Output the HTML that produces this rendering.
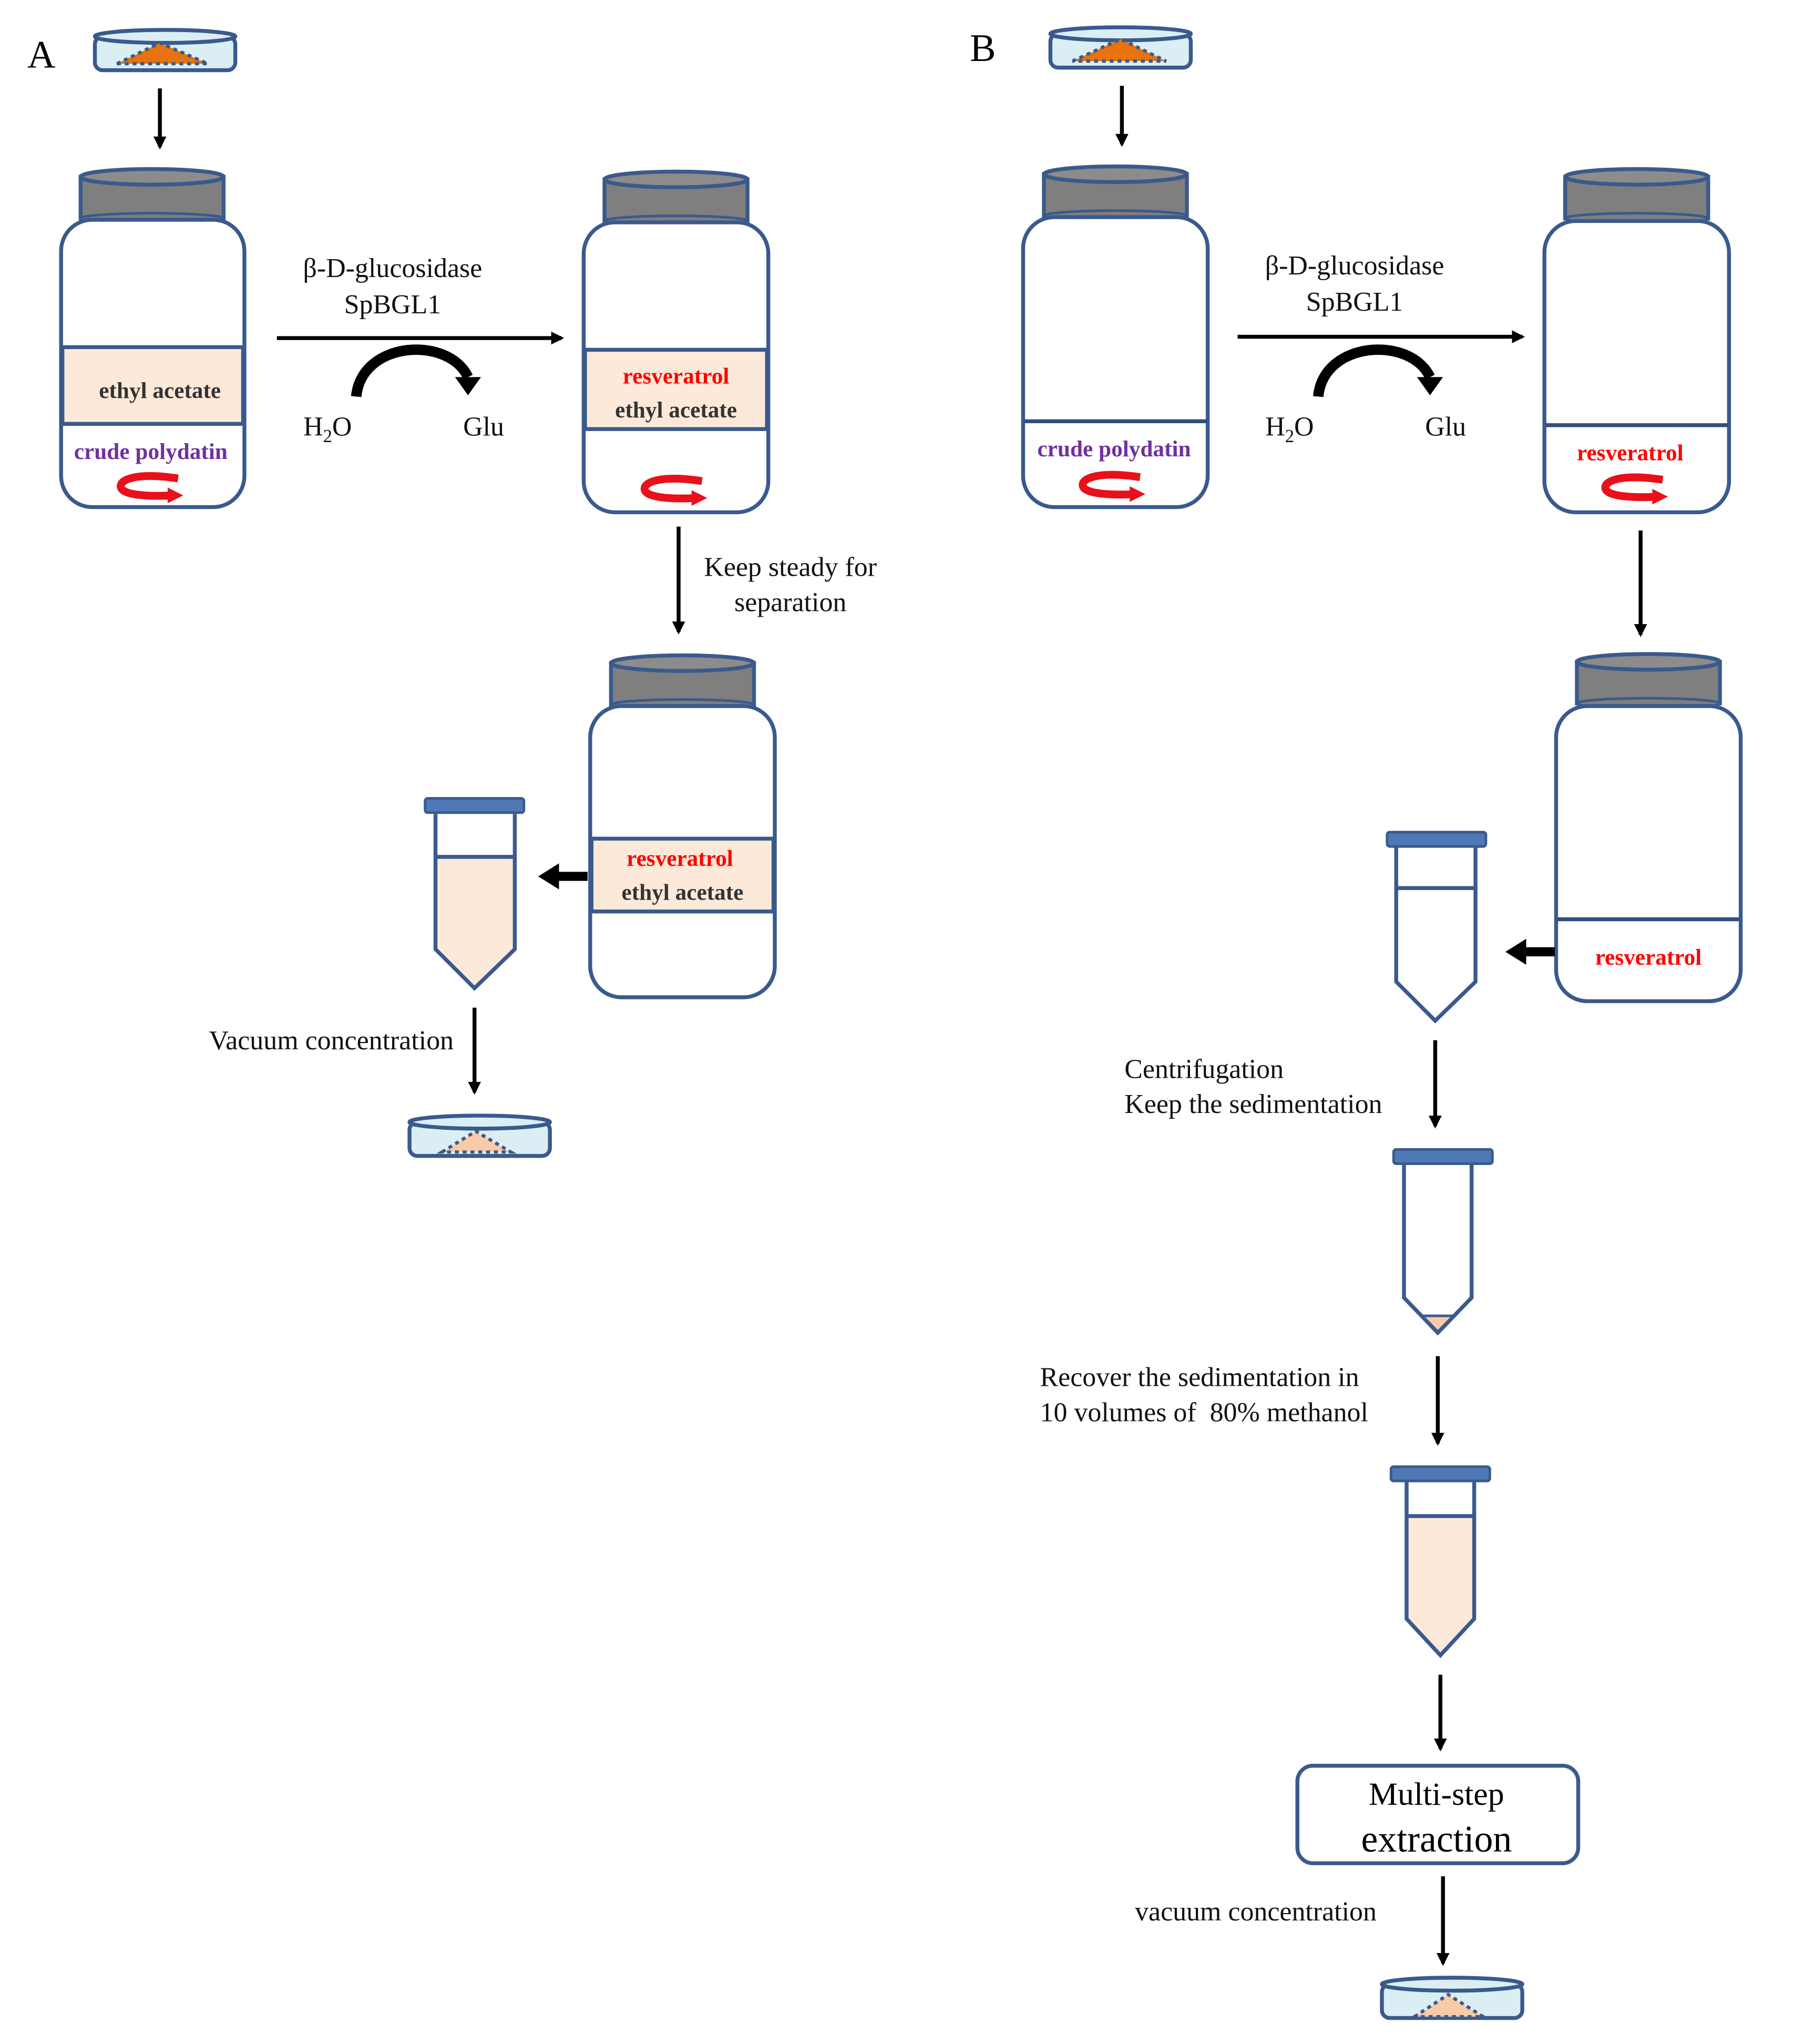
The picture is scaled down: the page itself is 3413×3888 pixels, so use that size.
<!DOCTYPE html>
<html><head><meta charset="utf-8"><style>
html,body{margin:0;padding:0;background:#fff;}
svg{display:block;}
text{font-family:"Liberation Serif",serif;}
.t{font-size:21px;fill:#111;}
.b{font-size:17.5px;font-weight:bold;}
</style></head><body>
<svg width="3413" height="3888" viewBox="0 0 1380 1572" preserveAspectRatio="none" xmlns="http://www.w3.org/2000/svg">
<defs>
<marker id="ah" markerWidth="10" markerHeight="10" refX="8" refY="5" orient="auto" markerUnits="userSpaceOnUse"><path d="M0,0 L10,5 L0,10 z" fill="#000"/></marker>
<g id="stir"><path d="M22,-7 C-10,-12 -24,-6 -22,0 C-20,6 0,7 18,6" fill="none" stroke="#e8101a" stroke-width="6"/><path d="M14,0 L26,6 L14,12 z" fill="#e8101a"/></g>
<g id="cap"><rect x="0" y="8" width="110" height="32" fill="#7f7f7f" stroke="#3a5a8c" stroke-width="3"/><ellipse cx="55" cy="8" rx="55" ry="6" fill="#8c8c8c" stroke="#3a5a8c" stroke-width="3"/><ellipse cx="55" cy="40" rx="55" ry="4" fill="#7f7f7f" stroke="#3a5a8c" stroke-width="2"/></g>
<g id="dish"><rect x="0" y="6" width="108" height="26" rx="6" fill="#dbeef4" stroke="#3a5a8c" stroke-width="3"/><ellipse cx="54" cy="6" rx="54" ry="5" fill="#dbeef4" stroke="#3a5a8c" stroke-width="3"/></g>
<g id="tcap"><rect x="0" y="0" width="76" height="11" rx="2" fill="#4f79b5" stroke="#3a5a8c" stroke-width="2"/></g>
</defs>

<!-- A -->
<text x="21" y="52" style="font-size:30px">A</text>
<use href="#dish" x="73" y="22"/>
<path d="M90,49 L123,33 L160,49 Z" fill="#e8720c" stroke="#3a5a8c" stroke-width="2.5" stroke-dasharray="3,3"/>
<line x1="123" y1="68" x2="123" y2="113" stroke="#000" stroke-width="3" marker-end="url(#ah)"/>

<use href="#cap" x="62" y="128"/>
<rect x="47" y="169" width="141" height="221" rx="24" fill="#fff" stroke="#3a5a8c" stroke-width="3"/>
<rect x="48" y="267" width="139" height="59" fill="#fce9d9" stroke="#3a5a8c" stroke-width="3"/>
<text x="123" y="306" text-anchor="middle" class="b" fill="#333">ethyl acetate</text>
<text x="116" y="353" text-anchor="middle" class="b" fill="#7030a0">crude polydatin</text>
<use href="#stir" x="115" y="375"/>

<line x1="213" y1="260" x2="432" y2="260" stroke="#000" stroke-width="3" marker-end="url(#ah)"/>
<text x="302" y="213" text-anchor="middle" class="t">β-D-glucosidase</text>
<text x="302" y="241" text-anchor="middle" class="t">SpBGL1</text>
<path d="M274,305 C278,262 345,258 360,290" fill="none" stroke="#000" stroke-width="8"/>
<path d="M350,290 L370,290 L360,304 Z" fill="#000"/>
<text x="252" y="335" text-anchor="middle" class="t">H<tspan dy="5" style="font-size:14px">2</tspan><tspan dy="-5">O</tspan></text>
<text x="372" y="335" text-anchor="middle" class="t">Glu</text>

<use href="#cap" x="465" y="130"/>
<rect x="449" y="171" width="142" height="223" rx="24" fill="#fff" stroke="#3a5a8c" stroke-width="3"/>
<rect x="450" y="269" width="140" height="61" fill="#fce9d9" stroke="#3a5a8c" stroke-width="3"/>
<text x="520" y="295" text-anchor="middle" class="b" fill="#ff0000">resveratrol</text>
<text x="520" y="321" text-anchor="middle" class="b" fill="#333">ethyl acetate</text>
<use href="#stir" x="518" y="377"/>

<line x1="522" y1="405" x2="522" y2="486" stroke="#000" stroke-width="3" marker-end="url(#ah)"/>
<text x="608" y="443" text-anchor="middle" class="t">Keep steady for</text>
<text x="608" y="470" text-anchor="middle" class="t">separation</text>

<use href="#cap" x="470" y="502"/>
<rect x="454" y="543" width="142" height="224" rx="24" fill="#fff" stroke="#3a5a8c" stroke-width="3"/>
<rect x="455" y="645" width="140" height="56" fill="#fce9d9" stroke="#3a5a8c" stroke-width="3"/>
<text x="523" y="666" text-anchor="middle" class="b" fill="#ff0000">resveratrol</text>
<text x="525" y="692" text-anchor="middle" class="b" fill="#333">ethyl acetate</text>

<path d="M452,674 L428,674" stroke="#000" stroke-width="7"/>
<path d="M430,664 L414,674 L430,684 Z" fill="#000"/>

<use href="#tcap" x="327" y="614"/>
<path d="M335,659 L396,659 L396,730 L365,760 L335,730 Z" fill="#fce9d9"/>
<path d="M335,626 L335,730 L365,760 L396,730 L396,626" fill="none" stroke="#3a5a8c" stroke-width="3"/>
<line x1="335" y1="659" x2="396" y2="659" stroke="#3a5a8c" stroke-width="3"/>

<text x="349" y="807" text-anchor="end" class="t">Vacuum concentration</text>
<line x1="365" y1="775" x2="365" y2="840" stroke="#000" stroke-width="3" marker-end="url(#ah)"/>
<use href="#dish" x="315" y="857"/>
<path d="M340,886 L366,870 L393,886 Z" fill="#f8cba6" stroke="#3a5a8c" stroke-width="2.5" stroke-dasharray="3,3"/>

<!-- B -->
<text x="746" y="47" style="font-size:30px">B</text>
<use href="#dish" x="808" y="20"/>
<path d="M825,47 L862,30 L897,47 Z" fill="#e8720c" stroke="#3a5a8c" stroke-width="2.5" stroke-dasharray="3,3"/>
<line x1="863" y1="66" x2="863" y2="111" stroke="#000" stroke-width="3" marker-end="url(#ah)"/>

<use href="#cap" x="803" y="126"/>
<rect x="787" y="167" width="142" height="223" rx="24" fill="#fff" stroke="#3a5a8c" stroke-width="3"/>
<line x1="788" y1="324" x2="928" y2="324" stroke="#2f4f7f" stroke-width="3"/>
<text x="857" y="351" text-anchor="middle" class="b" fill="#7030a0">crude polydatin</text>
<use href="#stir" x="855" y="374"/>

<line x1="952" y1="259" x2="1171" y2="259" stroke="#000" stroke-width="3" marker-end="url(#ah)"/>
<text x="1042" y="211" text-anchor="middle" class="t">β-D-glucosidase</text>
<text x="1042" y="239" text-anchor="middle" class="t">SpBGL1</text>
<path d="M1014,305 C1018,262 1085,258 1100,290" fill="none" stroke="#000" stroke-width="8"/>
<path d="M1090,290 L1110,290 L1100,304 Z" fill="#000"/>
<text x="992" y="335" text-anchor="middle" class="t">H<tspan dy="5" style="font-size:14px">2</tspan><tspan dy="-5">O</tspan></text>
<text x="1112" y="335" text-anchor="middle" class="t">Glu</text>

<use href="#cap" x="1204" y="128"/>
<rect x="1188" y="170" width="142" height="224" rx="24" fill="#fff" stroke="#3a5a8c" stroke-width="3"/>
<line x1="1189" y1="327" x2="1329" y2="327" stroke="#2f4f7f" stroke-width="3"/>
<text x="1254" y="354" text-anchor="middle" class="b" fill="#ff0000">resveratrol</text>
<use href="#stir" x="1257" y="376"/>

<line x1="1262" y1="408" x2="1262" y2="488" stroke="#000" stroke-width="3" marker-end="url(#ah)"/>

<use href="#cap" x="1213" y="501"/>
<rect x="1197" y="543" width="142" height="227" rx="24" fill="#fff" stroke="#3a5a8c" stroke-width="3"/>
<line x1="1198" y1="707" x2="1338" y2="707" stroke="#2f4f7f" stroke-width="3"/>
<text x="1268" y="742" text-anchor="middle" class="b" fill="#ff0000">resveratrol</text>

<path d="M1196,732 L1172,732" stroke="#000" stroke-width="7"/>
<path d="M1174,722 L1158,732 L1174,742 Z" fill="#000"/>

<use href="#tcap" x="1067" y="640"/>
<path d="M1074,651 L1074,755 L1104,785 L1135,755 L1135,651" fill="none" stroke="#3a5a8c" stroke-width="3"/>
<line x1="1074" y1="683" x2="1135" y2="683" stroke="#3a5a8c" stroke-width="3"/>

<text x="865" y="829" class="t">Centrifugation</text>
<text x="865" y="856" class="t">Keep the sedimentation</text>
<line x1="1104" y1="800" x2="1104" y2="866" stroke="#000" stroke-width="3" marker-end="url(#ah)"/>

<use href="#tcap" x="1072" y="884"/>
<path d="M1096,1012 L1116,1012 L1106,1023 Z" fill="#f8cba6"/>
<path d="M1080,895 L1080,998 L1106,1025 L1132,998 L1132,895" fill="none" stroke="#3a5a8c" stroke-width="3"/>
<line x1="1094" y1="1012" x2="1118" y2="1012" stroke="#3a5a8c" stroke-width="2"/>

<text x="800" y="1066" class="t">Recover the sedimentation in</text>
<text x="800" y="1093" class="t">10 volumes of &#160;80% methanol</text>
<line x1="1106" y1="1043" x2="1106" y2="1110" stroke="#000" stroke-width="3" marker-end="url(#ah)"/>

<use href="#tcap" x="1070" y="1128"/>
<path d="M1082,1166 L1134,1166 L1134,1245 L1108,1273 L1082,1245 Z" fill="#fce9d9"/>
<path d="M1082,1139 L1082,1245 L1108,1273 L1134,1245 L1134,1139" fill="none" stroke="#3a5a8c" stroke-width="3"/>
<line x1="1082" y1="1166" x2="1134" y2="1166" stroke="#3a5a8c" stroke-width="3"/>

<line x1="1108" y1="1288" x2="1108" y2="1345" stroke="#000" stroke-width="3" marker-end="url(#ah)"/>
<rect x="998" y="1358" width="216" height="75" rx="12" fill="#fff" stroke="#3a5a8c" stroke-width="3"/>
<text x="1105" y="1388" text-anchor="middle" style="font-size:25px">Multi-step</text>
<text x="1105" y="1424" text-anchor="middle" style="font-size:29px">extraction</text>

<text x="873" y="1477" class="t">vacuum concentration</text>
<line x1="1110" y1="1443" x2="1110" y2="1510" stroke="#000" stroke-width="3" marker-end="url(#ah)"/>
<use href="#dish" x="1063" y="1520"/>
<path d="M1088,1551 L1114,1534 L1141,1551 Z" fill="#f8cba6" stroke="#3a5a8c" stroke-width="2.5" stroke-dasharray="3,3"/>
</svg>
</body></html>
